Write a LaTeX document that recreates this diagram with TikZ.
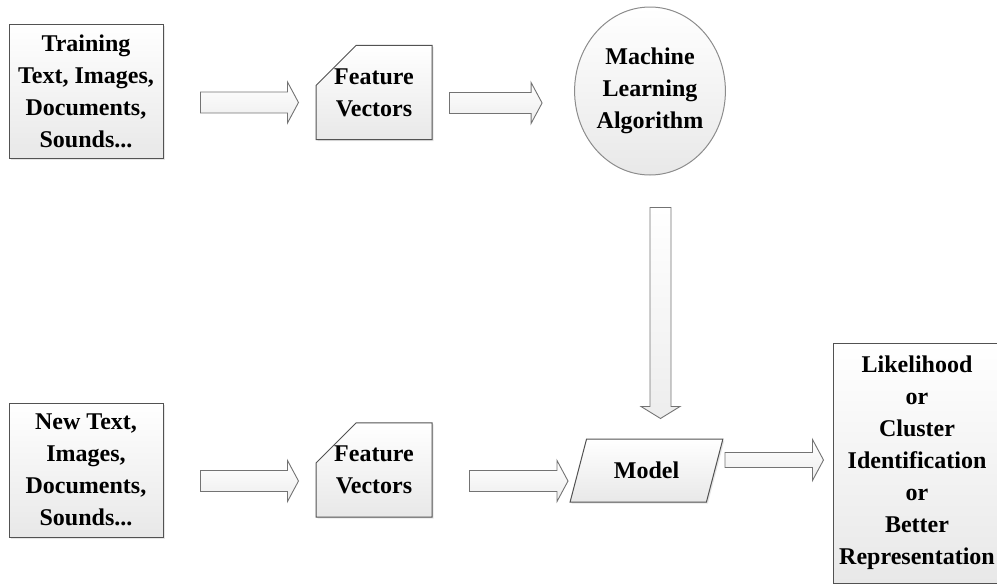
\documentclass[tikz,border=0pt]{standalone}
\usepackage{fontspec}
\setmainfont{Liberation Serif}
\usetikzlibrary{calc,shapes.geometric,shapes.misc,shadows}

% hollow block arrow: start, end, half shaft, half head, head length
\newcommand{\fatarrow}[5]{%
  \coordinate (#2-b) at ($(#2)!#5pt!(#1)$);
  \draw[flow] ($(#1)!#3pt!90:(#2)$) -- ($(#2-b)!#3pt!90:(#2)$)
    -- ($(#2-b)!#4pt!90:(#2)$) -- (#2) -- ($(#2-b)!#4pt!-90:(#2)$)
    -- ($(#2-b)!#3pt!-90:(#2)$) -- ($(#1)!#3pt!-90:(#2)$) -- cycle;}

\begin{document}
\begin{tikzpicture}[x=1pt, y=-1pt,
    every node/.style={font=\bfseries\fontsize{24}{32}\selectfont, align=center, inner sep=0pt},
    shade/.style={top color=white, bottom color=black!9},
    box/.style={shade, draw=black!68, line width=1pt, rectangle,
      drop shadow={shadow xshift=1.5pt, shadow yshift=-1.5pt, opacity=0.2}},
    databox/.style={box, minimum width=154pt, minimum height=134pt},
    featbox/.style={box, chamfered rectangle, chamfered rectangle corners=north west,
      chamfered rectangle xsep=17pt, chamfered rectangle ysep=23pt,
      minimum width=116pt, minimum height=71pt},
    algo/.style={shade, draw=black!45, line width=1pt, ellipse,
      minimum width=140pt, minimum height=168pt},
    modelbox/.style={box, trapezium, trapezium left angle=62, trapezium right angle=118,
      trapezium stretches=true, minimum width=153pt, minimum height=63pt},
    outbox/.style={box, minimum width=168pt, minimum height=240pt},
    flow/.style={top color=white, bottom color=black!7, draw=black!55, line width=0.9pt, line join=miter}]
  \useasboundingbox (0,0) rectangle (997,584);

  % training path
  \node[databox] (train) at (86,91) {Training\\Text, Images,\\Documents,\\Sounds...};
  \node[featbox] (fvtop) at (374,92.5) {Feature\\Vectors};
  \node[algo] (mla) at (650,91) {Machine\\Learning\\Algorithm};

  % prediction path
  \node[databox] (newdata) at (86,470) {New Text,\\Images,\\Documents,\\Sounds...};
  \node[featbox] (fvbot) at (374,470) {Feature\\Vectors};
  \node[modelbox] (model) at (646.5,470.5) {Model};
  \node[outbox] (result) at (917,463) {Likelihood\\or\\Cluster\\Identification\\or\\Better\\Representation};

  % arrow ends
  \coordinate (a1s) at ($(train.east)+(37,11.5)$);
  \coordinate (a1e) at ($(fvtop.west)+(-17,10)$);
  \coordinate (a2s) at ($(fvtop.east)+(17,10.5)$);
  \coordinate (a2e) at ($(mla.west)+(-32,12)$);
  \coordinate (a3s) at ($(mla.south)+(10.5,32)$);
  \coordinate (a3e) at ($(model.north)+(14,-20)$);
  \coordinate (a4s) at ($(newdata.east)+(37,11)$);
  \coordinate (a4e) at ($(fvbot.west)+(-17,11)$);
  \coordinate (a5s) at ($(fvbot.east)+(37,11)$);
  \coordinate (a5e) at ($(model.center)+(-78.5,10.5)$);
  \coordinate (a6s) at ($(model.center)+(78.5,-10.5)$);
  \coordinate (a6e) at ($(result.west)+(-9,-3)$);

  \fatarrow{a1s}{a1e}{10.5}{20.5}{11}
  \fatarrow{a2s}{a2e}{10.5}{20.5}{11}
  \fatarrow{a3s}{a3e}{10.5}{19.5}{12}
  \fatarrow{a4s}{a4e}{10.5}{20.5}{11}
  \fatarrow{a5s}{a5e}{10.5}{20.5}{11}
  \fatarrow{a6s}{a6e}{7.5}{20.5}{11}
\end{tikzpicture}
\end{document}
